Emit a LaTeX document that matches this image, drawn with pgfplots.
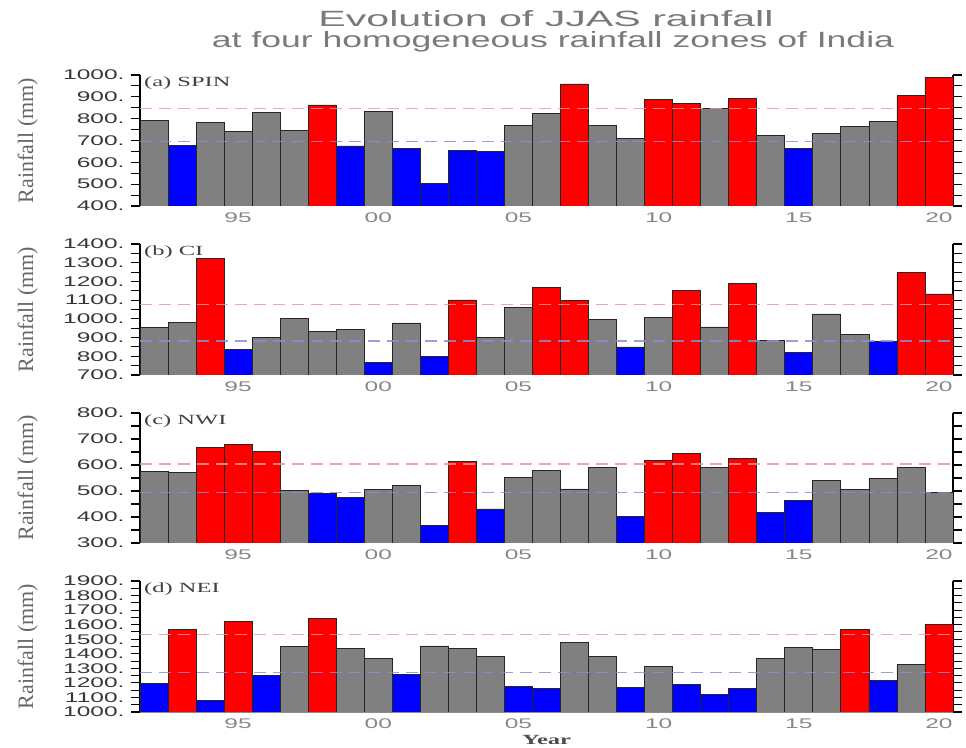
\documentclass[border=0pt]{standalone}
\usepackage{pgfplots}
\pgfplotsset{compat=1.18}
\usepackage{fontspec}
\setmainfont{Liberation Sans}
\newfontfamily\seriffont{Liberation Serif}
\usepackage{graphicx}
\definecolor{bargray}{RGB}{128,128,128}
\definecolor{barred}{RGB}{255,0,0}
\definecolor{barblue}{RGB}{0,0,255}
\definecolor{dashred}{RGB}{238,150,150}
\definecolor{dashblue}{RGB}{140,140,210}
\definecolor{ticklab}{RGB}{55,55,55}
\definecolor{xlab}{RGB}{135,135,135}
\newcommand{\sx}[1]{\scalebox{1.75}[1]{#1}}
\pgfplotsset{
  panel/.style={
    scale only axis, width=813pt, height=131pt, anchor=south west,
    xmin=1991.5, xmax=2020.5,
    xtick={1995,2000,2005,2010,2015,2020},
    xticklabels={\sx{95},\sx{00},\sx{05},\sx{10},\sx{15},\sx{20}},
    x tick label style={font=\fontsize{14}{14}\selectfont, text=xlab, yshift=6pt},
    xtick style={draw=none},
    minor y tick num=1,
    tick align=outside,
    major tick length=9pt, minor tick length=9pt,
    ytick style={line width=1.1pt, black},
    minor y tick style={line width=1.1pt, black},
    y tick label style={font=\fontsize{14}{14}\selectfont, text=ticklab, xshift=-3pt},
    separate axis lines,
    x axis line style={draw=none},
    y axis line style={line width=1.3pt, black},
    ylabel={\seriffont Rainfall (mm)},
    ylabel style={at={(axis description cs:-0.138,0.5)}, anchor=center, font=\fontsize{22}{22}\selectfont, text=black!60},
  },
  gbar/.style={ybar, bar width=1, bar shift=0pt, fill=bargray, draw=black!85, line width=0.8pt},
  rbar/.style={ybar, bar width=1, bar shift=0pt, fill=barred, draw=black!85, line width=0.8pt},
  bbar/.style={ybar, bar width=1, bar shift=0pt, fill=barblue, draw=black!85, line width=0.8pt},
  rline/.style={dashred, dash pattern=on 12pt off 7pt, line width=1.4pt, opacity=0.85},
  bline/.style={dashblue, dash pattern=on 12pt off 7pt, line width=1.4pt, opacity=0.85},
}
\newcommand{\plabel}[1]{\node[anchor=north west, inner sep=0pt, text=black!75, font=\fontsize{14}{14}\selectfont\seriffont, xshift=4pt, yshift=-2pt] at (rel axis cs:0,1) {\sx{#1}};
\draw[black!45, line width=0.8pt] (rel axis cs:0,0) -- (rel axis cs:1,0);}
\begin{document}
\begin{tikzpicture}
\useasboundingbox (0pt,0pt) rectangle (966pt,747pt);
\node[anchor=base, inner sep=0pt, text=black!52] at (546pt,720pt) {\resizebox{455pt}{16pt}{Evolution of JJAS rainfall}};
\node[anchor=base, inner sep=0pt, text=black!52] at (553pt,699pt) {\resizebox{682pt}{16pt}{at four homogeneous rainfall zones of India}};

% (a) SPIN
\begin{axis}[panel, at={(140pt,541pt)}, ymin=400, ymax=1000,
  ytick={400,500,600,700,800,900,1000},
  yticklabels={\sx{400.},\sx{500.},\sx{600.},\sx{700.},\sx{800.},\sx{900.},\sx{1000.}}]
\addplot[gbar] coordinates {(1992,791)(1994,782)(1995,742)(1996,827)(1997,748)(2000,834)(2005,769)(2006,824)(2008,769)(2009,708)(2012,845)(2014,725)(2016,731)(2017,763)(2018,788)};
\addplot[rbar] coordinates {(1998,863)(2007,959)(2010,890)(2011,869)(2013,893)(2019,905)(2020,989)};
\addplot[bbar] coordinates {(1993,679)(1999,675)(2001,664)(2002,502)(2003,653)(2004,649)(2015,664)};
\addplot[rline] coordinates {(1991.5,847)(2020.5,847)};
\addplot[bline] coordinates {(1991.5,695)(2020.5,695)};
\plabel{(a) SPIN}
\end{axis}

% (b) CI
\begin{axis}[panel, at={(140pt,372pt)}, ymin=700, ymax=1400,
  ytick={700,800,900,1000,1100,1200,1300,1400},
  yticklabels={\sx{700.},\sx{800.},\sx{900.},\sx{1000.},\sx{1100.},\sx{1200.},\sx{1300.},\sx{1400.}}]
\addplot[gbar] coordinates {(1992,953)(1993,983)(1996,900)(1997,1001)(1998,933)(1999,942)(2001,978)(2004,900)(2005,1062)(2008,999)(2010,1008)(2012,957)(2014,887)(2016,1026)(2017,919)};
\addplot[rbar] coordinates {(1994,1322)(2003,1101)(2006,1167)(2007,1099)(2011,1151)(2013,1188)(2019,1247)(2020,1133)};
\addplot[bbar] coordinates {(1995,837)(2000,768)(2002,798)(2009,850)(2015,819)(2018,880)};
\addplot[rline] coordinates {(1991.5,1076)(2020.5,1076)};
\addplot[bline] coordinates {(1991.5,882)(2020.5,882)};
\plabel{(b) CI}
\end{axis}

% (c) NWI
\begin{axis}[panel, at={(140pt,204pt)}, height=130pt, ymin=300, ymax=800,
  ytick={300,400,500,600,700,800},
  yticklabels={\sx{300.},\sx{400.},\sx{500.},\sx{600.},\sx{700.},\sx{800.}}]
\addplot[gbar] coordinates {(1992,574)(1993,573)(1997,503)(2000,505)(2001,522)(2005,553)(2006,579)(2007,508)(2008,591)(2012,591)(2016,540)(2017,505)(2018,547)(2019,591)(2020,495)};
\addplot[rbar] coordinates {(1994,667)(1995,680)(1996,652)(2003,614)(2010,619)(2011,644)(2013,624)};
\addplot[bbar] coordinates {(1998,491)(1999,475)(2002,366)(2004,431)(2009,403)(2014,419)(2015,462)};
\addplot[rline] coordinates {(1991.5,604)(2020.5,604)};
\addplot[bline] coordinates {(1991.5,494)(2020.5,494)};
\plabel{(c) NWI}
\end{axis}

% (d) NEI
\begin{axis}[panel, at={(140pt,35pt)}, ymin=1000, ymax=1900,
  ytick={1000,1100,1200,1300,1400,1500,1600,1700,1800,1900},
  yticklabels={\sx{1000.},\sx{1100.},\sx{1200.},\sx{1300.},\sx{1400.},\sx{1500.},\sx{1600.},\sx{1700.},\sx{1800.},\sx{1900.}},
  xlabel={\seriffont\bfseries\sx{Year}},
  xlabel style={at={(axis description cs:0.5,-0.245)}, anchor=base, font=\fontsize{14}{14}\selectfont, text=black!70}]
\addplot[gbar] coordinates {(1997,1451)(1999,1438)(2000,1365)(2002,1454)(2003,1438)(2004,1383)(2007,1476)(2008,1383)(2010,1315)(2014,1365)(2015,1444)(2016,1428)(2019,1324)};
\addplot[rbar] coordinates {(1993,1570)(1995,1622)(1998,1640)(2017,1570)(2020,1602)};
\addplot[bbar] coordinates {(1992,1196)(1994,1082)(1996,1251)(2001,1260)(2005,1173)(2006,1164)(2009,1171)(2011,1192)(2012,1121)(2013,1164)(2018,1219)};
\addplot[rline] coordinates {(1991.5,1533)(2020.5,1533)};
\addplot[bline] coordinates {(1991.5,1271)(2020.5,1271)};
\plabel{(d) NEI}
\end{axis}
\end{tikzpicture}
\end{document}
